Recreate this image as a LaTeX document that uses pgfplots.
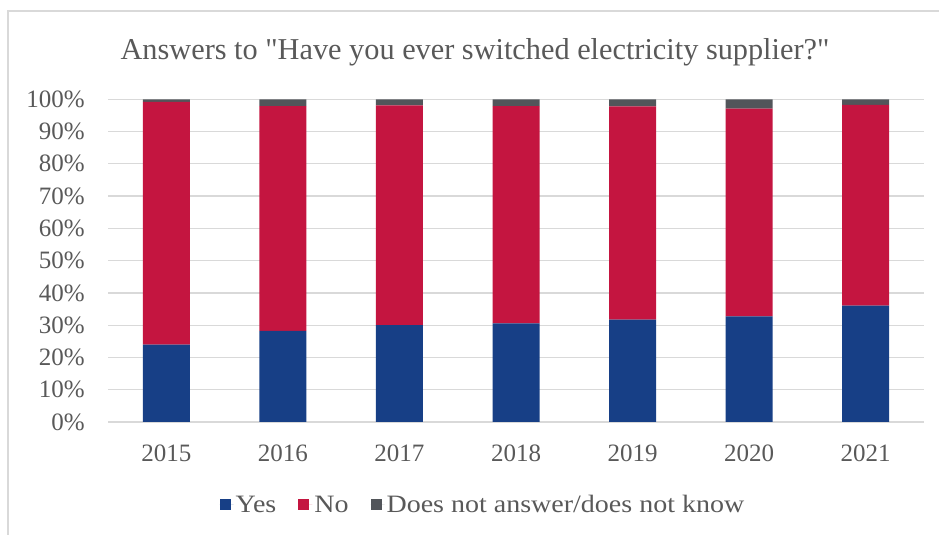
\documentclass[border=0pt]{standalone}
\usepackage{fontspec}
\setmainfont{Liberation Serif}
\newfontfamily\legfont{Liberation Serif}[FakeStretch=1.12]
\newfontfamily\titlefont{Liberation Serif}[Ligatures=NoCommon]
\usepackage{pgfplots}
\pgfplotsset{compat=1.18}
\definecolor{cyes}{RGB}{23,63,134}
\definecolor{cno}{RGB}{196,21,64}
\definecolor{cdk}{RGB}{82,85,90}
\definecolor{ctxt}{RGB}{89,89,89}
\definecolor{cgrid}{RGB}{217,217,217}
\begin{document}
\begin{tikzpicture}[x=1pt,y=1pt]
\useasboundingbox (0,0) rectangle (939,535);
\draw[cgrid, line width=2pt] (8,0) -- (8,524) -- (939,524);
\node[anchor=base, text=ctxt, font=\titlefont\fontsize{30.3}{34}\selectfont, inner sep=0pt] at (475,475) {Answers to \symbol{34}Have you ever switched electricity supplier?\symbol{34}};
\begin{axis}[
  at={(108pt,113pt)}, anchor=south west,
  scale only axis, width=816pt, height=322.7pt,
  ybar stacked, bar width=47pt,
  xmin=-0.5, xmax=6.5, ymin=0, ymax=100,
  enlargelimits=false,
  xtick={0,1,2,3,4,5,6},
  xticklabels={2015,2016,2017,2018,2019,2020,2021},
  ytick={0,10,...,100},
  yticklabel={\pgfmathprintnumber{\tick}\%},
  /pgf/number format/assume math mode=true,
  ymajorgrids, grid style={cgrid, line width=1.3pt},
  axis line style={draw=none},
  major tick style={draw=none},
  tick label style={font=\fontsize{25}{28}\selectfont, text=ctxt, inner sep=0pt},
  yticklabel style={anchor=east, xshift=-23pt},
  xticklabel style={anchor=north, yshift=-23pt},
  legend style={at={(0.4595,-0.257)}, anchor=center, draw=none, fill=none,
    legend columns=3, font=\legfont\fontsize{25}{28}\selectfont, text=ctxt,
    /tikz/every even column/.append style={column sep=20pt}},
  legend image code/.code={\draw[#1, draw=none] (0pt,-5pt) rectangle (11pt,6pt); \path (0pt,0pt) -- (14pt,0pt);},
]
\addplot[fill=cyes, draw=none] coordinates {(0,24.0) (1,28.2) (2,30.0) (3,30.6) (4,31.7) (5,32.7) (6,36.1)};
\addplot[fill=cno, draw=none] coordinates {(0,75.2) (1,69.7) (2,68.1) (3,67.3) (4,66.1) (5,64.4) (6,62.2)};
\addplot[fill=cdk, draw=none] coordinates {(0,0.8) (1,2.1) (2,1.9) (3,2.1) (4,2.2) (5,2.9) (6,1.7)};
\legend{Yes,No,Does not answer/does not know}
\end{axis}
\end{tikzpicture}
\end{document}
